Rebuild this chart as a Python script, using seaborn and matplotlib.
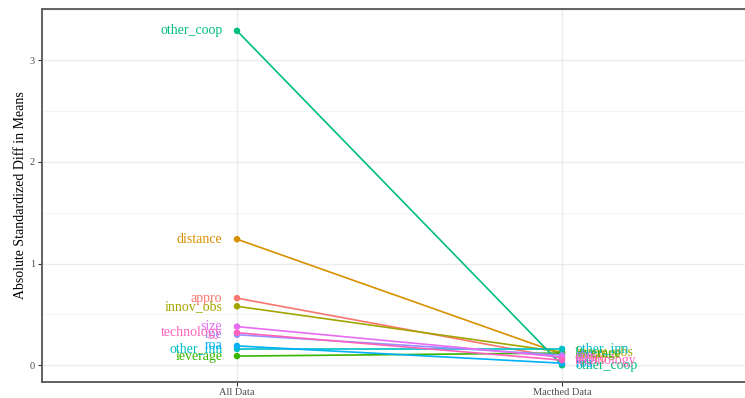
import matplotlib
matplotlib.use("Agg")
import matplotlib.pyplot as plt
import seaborn as sns
import pandas as pd

# Covariates and their absolute standardized differences in means
variables = ["appro", "distance", "innov_obs", "leverage", "other_coop",
             "other_inn", "roa", "roe", "size", "technology"]
all_data = [0.66, 1.24, 0.58, 0.09, 3.29, 0.16, 0.19, 0.30, 0.38, 0.32]
matched_data = [0.07, 0.11, 0.13, 0.12, 0.00, 0.16, 0.02, 0.10, 0.08, 0.05]
samples = ["All Data", "Macthed Data"]

palette = ["#F8766D", "#D89000", "#A3A500", "#39B600", "#00BF7D",
           "#00BFC4", "#00B0F6", "#9590FF", "#E76BF3", "#FF62BC"]

df = pd.DataFrame({
    "variable": variables * 2,
    "sample": [samples[0]] * len(variables) + [samples[1]] * len(variables),
    "value": all_data + matched_data,
})
df["pos"] = df["sample"].map({s: i for i, s in enumerate(samples)})

sns.set_theme(style="white")
plt.rcParams["font.family"] = ["Liberation Serif", "DejaVu Serif"]

fig = plt.figure(figsize=(7.45, 3.98), dpi=100)
# panel runs past the right edge of the canvas
ax = fig.add_axes([42 / 745, 16.5 / 398, 715 / 745, 372 / 398])

pal = dict(zip(variables, palette))
sns.lineplot(data=df, x="pos", y="value", hue="variable", palette=pal,
             linewidth=1.2, legend=False, ax=ax, zorder=3)
sns.scatterplot(data=df, x="pos", y="value", hue="variable", palette=pal,
                s=22, linewidth=0, legend=False, ax=ax, zorder=4)

for v, a, m in zip(variables, all_data, matched_data):
    ax.annotate(v, (0, a), xytext=(-10.5, 0), textcoords="offset points",
                ha="right", va="center", color=pal[v], fontsize=10)
    ax.annotate(v, (1, m), xytext=(9.5, 0), textcoords="offset points",
                ha="left", va="center", color=pal[v], fontsize=10)

ax.set_xlim(-0.6, 1.6)
ax.set_ylim(-0.16, 3.45)
ax.set_xticks([0, 1])
ax.set_xticklabels(samples)
ax.set_yticks([0, 1, 2, 3])
ax.set_yticks([0.5, 1.5, 2.5, 3.5], minor=True)
ax.grid(True, which="major", color="#EBEBEB", linewidth=1.0, zorder=0)
ax.grid(True, which="minor", axis="y", color="#F2F2F2", linewidth=0.6, zorder=0)
ax.set_axisbelow(True)
ax.tick_params(axis="both", which="major", length=3, width=0.8, color="#333333",
               labelsize=7.5, labelcolor="#4D4D4D", pad=2, bottom=True, left=True)
ax.tick_params(axis="both", which="minor", length=0)
for sp in ax.spines.values():
    sp.set_color("#555555")
    sp.set_linewidth(1.3)
ax.set_xlabel("")
ax.set_ylabel("Absolute Standardized Diff in Means", fontsize=10, color="black", labelpad=2)

fig.savefig("out.png", dpi=100)
